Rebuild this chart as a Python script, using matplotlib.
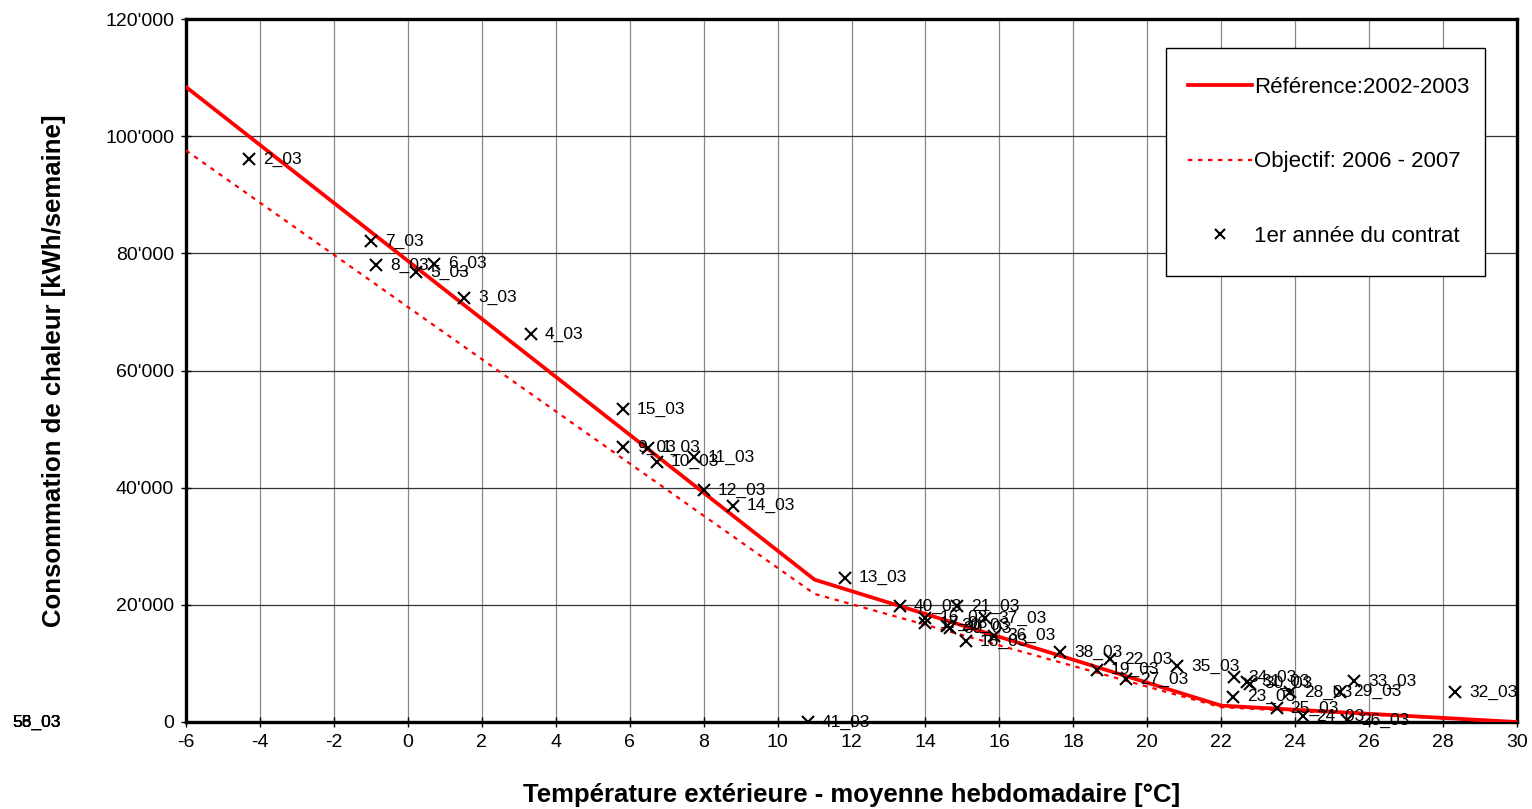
import numpy as np
import matplotlib
matplotlib.use('Agg')
import matplotlib.pyplot as plt
from matplotlib.patches import Rectangle
from matplotlib.ticker import FuncFormatter, MultipleLocator

plt.rcParams['font.family'] = ['Liberation Sans', 'DejaVu Sans']
plt.rcParams['axes.unicode_minus'] = False

# courbe de référence 2002-2003 et objectif 2006-2007 (points de cassure)
ref_x = [-6, 11, 22, 30]
ref_y = [108400, 24300, 2800, 0]
obj_x = [-6, 11, 22, 30]
obj_y = [97560, 21870, 2520, 0]

# mesures hebdomadaires, 1ère année du contrat
sem_lbl = ['2_03', '7_03', '8_03', '6_03', '5_03', '3_03', '4_03', '15_03',
           '9_03', '1_03', '10_03', '11_03', '12_03', '14_03', '13_03', '40_03',
           '21_03', '16_03', '17_03', '20_03', '39_03', '37_03', '18_03', '36_03',
           '38_03', '22_03', '19_03', '27_03', '35_03', '34_03', '31_03', '30_03',
           '23_03', '28_03', '25_03', '24_03', '29_03', '33_03', '26_03', '32_03',
           '41_03']
sem_t = [-4.30, -1.00, -0.86, 0.71, 0.22, 1.52, 3.33, 5.82,
         5.82, 6.50, 6.74, 7.74, 8.01, 8.80, 11.83, 13.31,
         14.85, 14.00, 14.00, 14.58, 14.66, 15.61, 15.10, 15.85,
         17.64, 18.99, 18.64, 19.43, 20.81, 22.35, 22.70, 22.78,
         22.32, 23.86, 23.50, 24.20, 25.20, 25.60, 25.40, 28.33,
         10.82]
sem_q = [96100, 82100, 78000, 78200, 76800, 72400, 66200, 53400,
         46900, 46800, 44400, 45200, 39600, 36900, 24600, 19800,
         19800, 17800, 16900, 16400, 16000, 17700, 13800, 14700,
         11950, 10750, 8900, 7340, 9560, 7600, 6900, 6500,
         4300, 5100, 2400, 1000, 5150, 7000, 350, 5120,
         0]
# semaines sans données (étiquettes hors graphique)
sem_vides = ['53_03', '55_03', '56_03', '58_03']

fig = plt.figure(figsize=(15.32, 8.09), dpi=100)
ax = fig.add_axes([186/1532, 1-722/809, 1331/1532, 703/809])

ax.plot(ref_x, ref_y, color='#ff0000', lw=2.7, label='Référence:2002-2003', zorder=3)
ax.plot(obj_x, obj_y, color='#ff0000', lw=1.6, ls=(0, (2, 2.5)),
        label='Objectif: 2006 - 2007', zorder=3)
ax.plot(sem_t, sem_q, ls='none', marker='x', color='black', ms=9, mew=1.5,
        label='1er année du contrat', zorder=4)

for lbl, t, q in zip(sem_lbl, sem_t, sem_q):
    ax.annotate(lbl, (t, q), xytext=(10, 0), textcoords='offset points',
                va='center', ha='left', fontsize=12.5, zorder=5)

for lbl in sem_vides:
    ax.text(-0.1307, 0, lbl, transform=ax.transAxes, va='center', ha='left',
            fontsize=12.5, clip_on=False)

ax.set_xlim(-6, 30)
ax.set_ylim(0, 120000)
ax.xaxis.set_major_locator(MultipleLocator(2))
ax.yaxis.set_major_locator(MultipleLocator(20000))
ax.yaxis.set_major_formatter(FuncFormatter(lambda v, p: f"{int(v):,}".replace(',', "'")))

ax.grid(axis='y', color='#333333', lw=0.9)
ax.grid(axis='x', color='#888888', lw=0.9)
ax.set_axisbelow(True)
for s in ax.spines.values():
    s.set_linewidth(2.4)
    s.set_color('black')
ax.tick_params(direction='inout', length=7, width=1, labelsize=14, pad=5)

ax.set_xlabel('Température extérieure - moyenne hebdomadaire [°C]',
              fontsize=18.5, fontweight='bold', labelpad=23)
ax.set_ylabel('Consommation de chaleur [kWh/semaine]',
              fontsize=18.5, fontweight='bold', labelpad=28)

# cadre de la légende (comme Excel), légende centrée dedans
bx0, by0, bx1, by1 = 1166/1532, 1-276/809, 1485/1532, 1-48/809
ax.add_patch(Rectangle((bx0, by0), bx1-bx0, by1-by0, transform=fig.transFigure,
                       facecolor='white', edgecolor='black', lw=1.0, zorder=6,
                       clip_on=False))
leg = ax.legend(loc='center', bbox_to_anchor=((bx0+bx1)/2 + 0.002, (by0+by1)/2),
                bbox_transform=fig.transFigure, borderaxespad=0, frameon=False,
                fontsize=16, labelspacing=2.4, handlelength=2.9, handletextpad=0.1,
                borderpad=0.5, markerscale=0.8)
leg.set_zorder(7)

fig.savefig('out.png', dpi=100)
